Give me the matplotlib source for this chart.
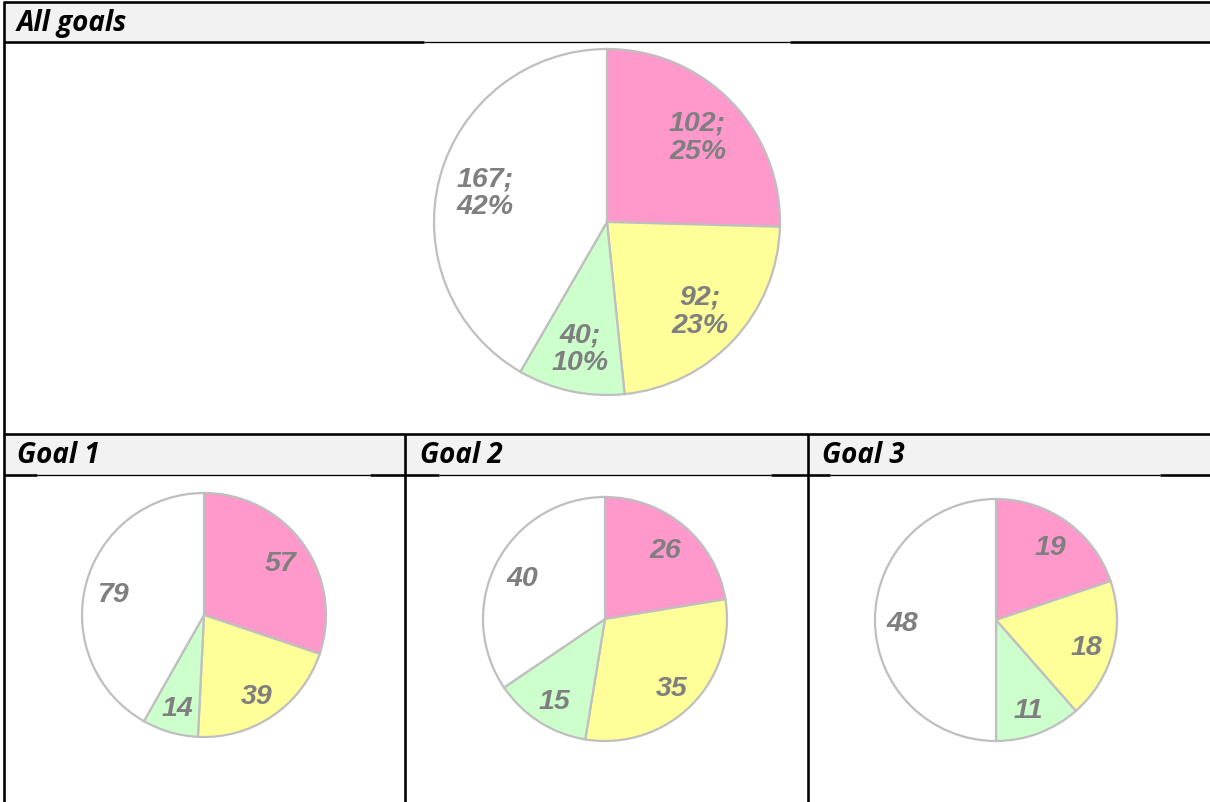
import matplotlib.pyplot as plt
from matplotlib.patches import Rectangle
from matplotlib.transforms import offset_copy

W, H = 1210, 802

# data, slice order clockwise from 12 o'clock
slice_colors = ['#FF99CC', '#FFFF99', '#CCFFCC', '#FFFFFF']
all_goals = [102, 92, 40, 167]
goal1 = [57, 39, 14, 79]
goal2 = [26, 35, 15, 40]
goal3 = [19, 18, 11, 48]
headers = ['All goals', 'Goal 1', 'Goal 2', 'Goal 3']

label_color = '#7F7F7F'
edge_color = '#BFBFBF'
head_bg = '#F2F2F2'
px = 0.72  # pixel -> points at dpi 100

fig = plt.figure(figsize=(W/100, H/100), dpi=100)
fig.patch.set_facecolor('white')


def px_axes(x, y, w, h):
    return fig.add_axes([x/W, 1 - (y+h)/H, w/W, h/H])


# table grid on an overlay in pixel coordinates
grid = px_axes(0, 0, W, H)
grid.set_xlim(0, W)
grid.set_ylim(H, 0)
grid.axis('off')

grid.add_patch(Rectangle((4, 2), W, 40, color=head_bg, lw=0))
grid.add_patch(Rectangle((4, 434), W, 41, color=head_bg, lw=0))

thick = 2.6*px
thin = 1.3*px
# horizontal lines
grid.plot([4, W], [2, 2], 'k-', lw=thick, solid_capstyle='butt')
grid.plot([4, 424], [42, 42], 'k-', lw=thick, solid_capstyle='butt')
grid.plot([424, 790], [42, 42], 'k-', lw=thin, solid_capstyle='butt')
grid.plot([790, W], [42, 42], 'k-', lw=thick, solid_capstyle='butt')
grid.plot([4, W], [434, 434], 'k-', lw=thick, solid_capstyle='butt')
segs = [(4, 37, thick), (37, 370, thin), (370, 439, thick), (439, 771, thin),
        (771, 830, thick), (830, 1160, thin), (1160, W, thick)]
for a, b, lw in segs:
    grid.plot([a, b], [475, 475], 'k-', lw=lw, solid_capstyle='butt')
# vertical lines
grid.plot([4, 4], [1, H], 'k-', lw=thick, solid_capstyle='butt')
grid.plot([405, 405], [434, H], 'k-', lw=thick, solid_capstyle='butt')
grid.plot([808, 808], [434, H], 'k-', lw=thick, solid_capstyle='butt')

# header texts
head_font = dict(family=['Open Sans', 'DejaVu Sans'], weight='bold', style='italic',
                 fontsize=20, color='black', va='baseline', ha='left')
grid.text(17, 31, headers[0], **head_font)
grid.text(17, 463, headers[1], **head_font)
grid.text(420, 463, headers[2], **head_font)
grid.text(822, 463, headers[3], **head_font)

lab_font = dict(family=['Liberation Sans', 'DejaVu Sans'], weight='bold', style='italic',
                size=20.5, color=label_color, linespacing=1.1)


def draw_pie(cx, cy, r, values, with_pct, ldist):
    ax = px_axes(cx - r - 4, cy - r - 4, 2*r + 8, 2*r + 8)
    total = sum(values)
    if with_pct:
        labels = ['%d;\n%d%%' % (v, round(100.0*v/total)) for v in values]
    else:
        labels = [str(v) for v in values]
    wedges, texts = ax.pie(values, colors=slice_colors, startangle=90, counterclock=False,
                           labels=labels, labeldistance=ldist, radius=1,
                           wedgeprops=dict(edgecolor=edge_color, linewidth=1.6))
    shifted = offset_copy(ax.transData, fig=fig, x=0, y=-4, units='dots')
    for t in texts:
        t.set(ha='center', va='center', **lab_font)
        t.set_transform(shifted)
    lim = (r + 4.0)/r
    ax.set_xlim(-lim, lim)
    ax.set_ylim(-lim, lim)
    ax.set_aspect('equal')
    ax.axis('off')


draw_pie(607, 222, 173, all_goals, True, 0.73)
draw_pie(204, 615, 122, goal1, False, 0.77)
draw_pie(605, 619, 122, goal2, False, 0.77)
draw_pie(996, 620, 121, goal3, False, 0.77)

plt.savefig('out.png', dpi=100, facecolor='white')
